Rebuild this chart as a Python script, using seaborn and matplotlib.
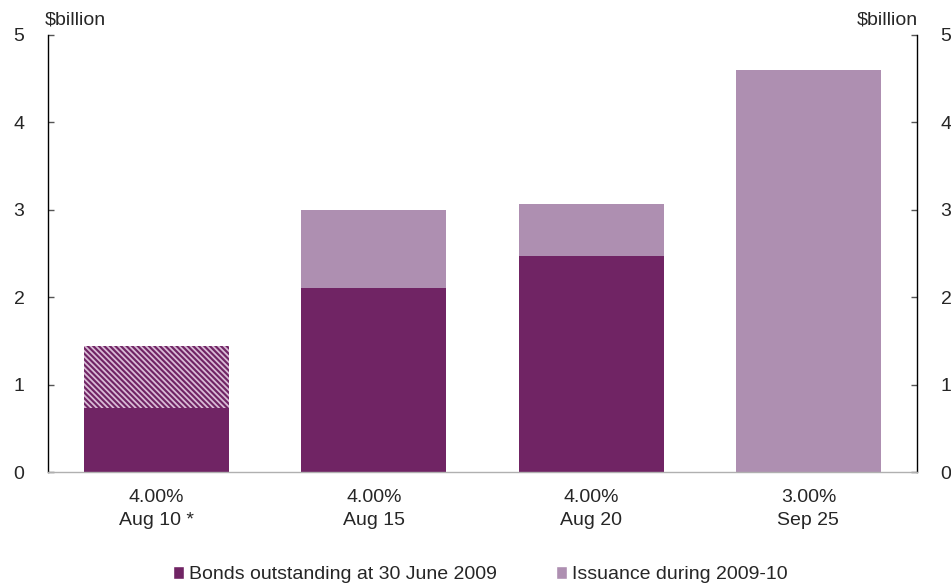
import matplotlib
matplotlib.use("Agg")
import matplotlib.pyplot as plt
import seaborn as sns
import numpy as np
from matplotlib.patches import Patch

# Bond lines and amounts ($billion)
categories = ["4.00%\nAug 10 *", "4.00%\nAug 15", "4.00%\nAug 20", "3.00%\nSep 25"]
outstanding = [0.73, 2.10, 2.47, 0.00]
outstanding_hatched = [0.71, 0.00, 0.00, 0.00]
issuance = [0.00, 0.90, 0.60, 4.60]
yticks = [0, 1, 2, 3, 4, 5]

dark = "#702464"
light = "#AE8FB1"
stripe = "#D9BCD6"

sns.set_theme(style="white")
plt.rcParams["font.family"] = ["Liberation Sans", "DejaVu Sans"]
plt.rcParams["hatch.linewidth"] = 1.3

fig = plt.figure(figsize=(9.51, 5.87), dpi=100)
ax = fig.add_axes([0.0505, 0.1959, 0.9138, 0.7445])

out = np.array(outstanding)
hat = np.array(outstanding_hatched)
iss = np.array(issuance)
width = 0.667

# Stacked layers, drawn from the tallest down
sns.barplot(x=categories, y=out + hat + iss, color=light, width=width,
            saturation=1, ax=ax, linewidth=0)
n0 = len(ax.patches)
sns.barplot(x=categories, y=out + hat, color=dark, width=width,
            saturation=1, ax=ax, linewidth=0)
for p, h in zip(ax.patches[n0:], hat):
    if h > 0:
        p.set_hatch("\\\\\\\\\\\\")
        p.set_edgecolor(stripe)
        p.set_linewidth(0)
sns.barplot(x=categories, y=out, color=dark, width=width,
            saturation=1, ax=ax, linewidth=0)

ax.set_xlim(-0.5, 3.5)
ax.set_ylim(0, 5)
ax.set_yticks(yticks)
ax.set_xlabel("")
ax.set_ylabel("")

ax.tick_params(axis="y", which="both", direction="in", length=4, width=1,
               color="#555555", labelsize=14, pad=17, left=True, right=True,
               labelleft=True, labelright=True)
ax.tick_params(axis="x", length=0, labelsize=14, pad=12)
for lbl in ax.get_xticklabels():
    lbl.set_linespacing(1.45)

for s in ["left", "right"]:
    ax.spines[s].set_color("black")
    ax.spines[s].set_linewidth(1)
ax.spines["top"].set_visible(False)
ax.spines["bottom"].set_color("#b0b0b0")
ax.spines["bottom"].set_linewidth(1)

fig.text(0.047, 0.952, "$billion", fontsize=14, ha="left", va="bottom")
fig.text(0.9655, 0.952, "$billion", fontsize=14, ha="right", va="bottom")

handles = [Patch(facecolor=dark, label="Bonds outstanding at 30 June 2009"),
           Patch(facecolor=light, label="Issuance during 2009-10")]
fig.legend(handles=handles, loc="center", bbox_to_anchor=(0.505, 0.021),
           ncol=2, frameon=False, fontsize=14, handlelength=0.6,
           handleheight=0.6, handletextpad=0.25, columnspacing=3.0)

fig.savefig("out.png", dpi=100)
